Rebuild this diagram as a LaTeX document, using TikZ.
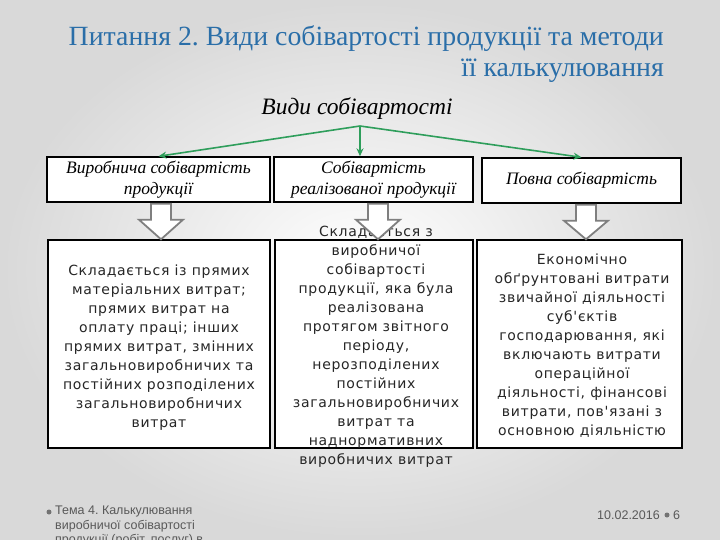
\documentclass[tikz,border=0pt]{standalone}
\usepackage{fontspec}
\setmainfont{Liberation Serif}
\newfontfamily\bodyfont[LetterSpace=5]{DejaVu Sans}
\newfontfamily\footfont{Liberation Sans}
\usetikzlibrary{arrows.meta,calc}
\frenchspacing
\definecolor{titleblue}{HTML}{2A6EA8}
\definecolor{arrgreen}{HTML}{2E9E5B}
\definecolor{hollowgray}{HTML}{7F7F7F}
\definecolor{footgray}{HTML}{595959}
\tikzset{
  topbox/.style={draw=black, line width=1.4pt, fill=white, inner sep=0pt, align=center,
    font=\itshape\fontsize{17.5}{21}\selectfont},
  lowbox/.style={draw=black, line width=1.4pt, fill=white, inner sep=0pt},
  bodytext/.style={inner sep=0pt, align=center, text=black!85,
    font=\bodyfont\fontsize{14}{19}\selectfont},
  greenarr/.style={draw=arrgreen, line width=1.6pt, -{Stealth[length=8pt,width=7pt]}},
  hollow/.style={draw=hollowgray, line width=1.8pt, fill=white, line join=miter},
  foot/.style={inner sep=0pt, text=footgray, font=\footfont\fontsize{12.5}{14.5}\selectfont},
  footdot/.style={fill=black!55, draw=none}
}
\begin{document}
\begin{tikzpicture}[x=1pt,y=-1pt]
\useasboundingbox (0,0) rectangle (720,540);
\clip (0,0) rectangle (720,540);
\shade[inner color=white, outer color=black!15] (0,0) rectangle (720,540);

% title
\node[anchor=base east, inner sep=0pt, text=titleblue, font=\fontsize{27.8}{32}\selectfont]
  (title1) at (664,46) {Питання 2. Види собівартості продукції та методи};
\node[anchor=base east, inner sep=0pt, text=titleblue, font=\fontsize{27.8}{32}\selectfont]
  (title2) at (664,77) {її калькулювання};

% heading
\node[anchor=base, inner sep=0pt, font=\itshape\fontsize{23.5}{28}\selectfont] (vs) at (357,115) {Види собівартості};
\coordinate (g) at (360,126);

% top boxes
\node[topbox, minimum width=223pt, minimum height=45pt] (t1) at (158.5,179.5)
  {Виробнича собівартість\\продукції};
\node[topbox, minimum width=199pt, minimum height=45pt] (t2) at (373.5,179.5)
  {Собівартість\\реалізованої продукції};
\node[topbox, minimum width=199pt, minimum height=45pt] (t3) at (581.5,180.5)
  {Повна собівартість};

% green arrows
\draw[greenarr] (g) -- (t1.north);
\draw[greenarr] (g) -- (g |- t2.north);
\draw[greenarr] (g) -- (t3.north);

% lower boxes
\node[lowbox, minimum width=222pt, minimum height=208pt] (b1) at (159,344) {};
\node[lowbox, minimum width=198pt, minimum height=208pt] (b2) at (374,344) {};
\node[lowbox, minimum width=205pt, minimum height=208pt] (b3) at (579.5,344) {};

% texts
\node[bodytext] (x1) at (159,348) {Складається із прямих\\матеріальних витрат;\\прямих витрат на\\оплату праці; інших\\прямих витрат, змінних\\загальновиробничих та\\постійних розподілених\\загальновиробничих\\витрат};
\node[bodytext] (x2) at (376,347) {Складається з\\виробничої\\собівартості\\продукції, яка була\\реалізована\\протягом звітного\\періоду,\\нерозподілених\\постійних\\загальновиробничих\\витрат та\\наднормативних\\виробничих витрат};
\node[bodytext] (x3) at (582,346) {Економічно\\обґрунтовані витрати\\звичайної діяльності\\суб'єктів\\господарювання, які\\включають витрати\\операційної\\діяльності, фінансові\\витрати, пов'язані з\\основною діяльністю};

% hollow arrows
\foreach \t/\b/\dx in {t1/b1/2.5, t2/b2/4.5, t3/b3/4.5}{
  \draw[hollow] ($(\t.south)+(\dx,0)$) ++(-10,1) -- ++(0,16) -- ++(-12,0)
     -- ($(\b.north -| \t.south)+(\dx,0)$) -- ($(\t.south)+(\dx,0)+(22,17)$)
     -- ++(-12,0) -- ++(0,-16) -- cycle;
}

% footer
\fill[footdot] (49,512) circle (2.5pt);
\node[foot, anchor=north west, align=left] (f1) at (55,506)
  {Тема 4. Калькулювання\\виробничої собівартості\\продукції (робіт, послуг) в};
\node[foot, anchor=base east] (date) at (660,519) {10.02.2016};
\fill[footdot] (667,515) circle (2.5pt);
\node[foot, anchor=base west] (pg) at (673,519) {6};
\end{tikzpicture}
\end{document}
